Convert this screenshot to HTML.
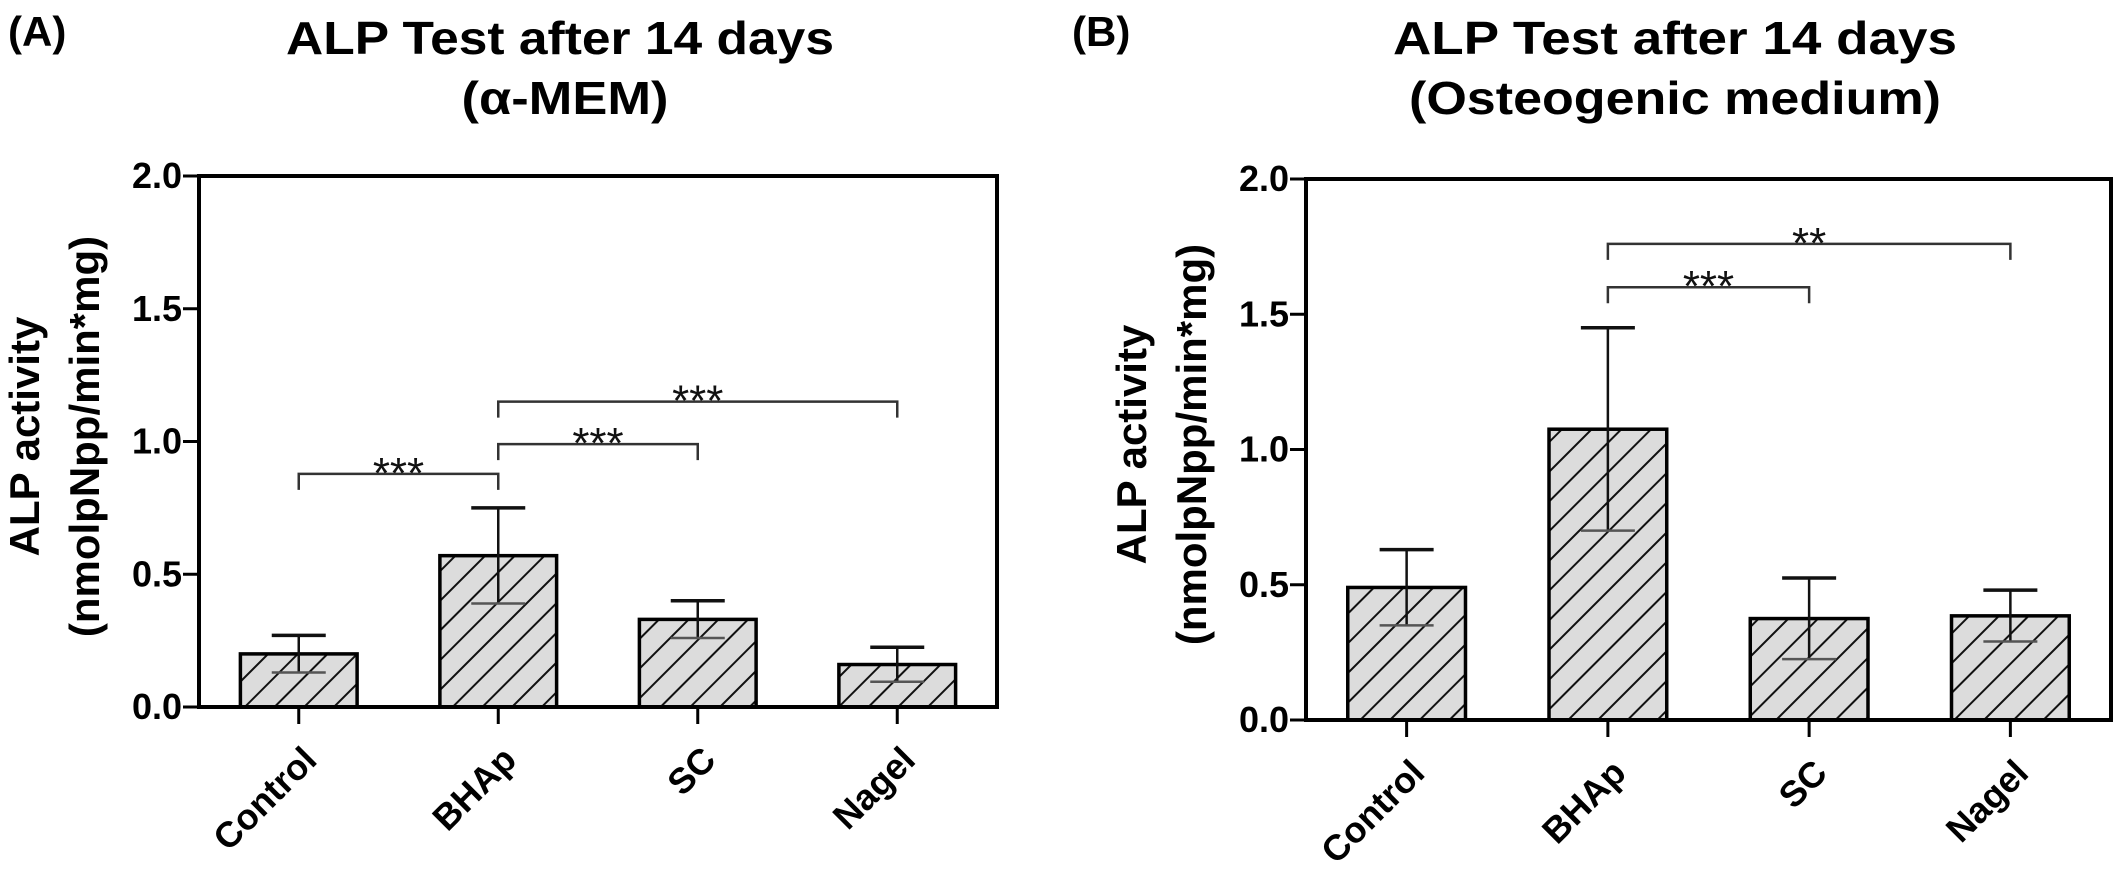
<!DOCTYPE html>
<html><head><meta charset="utf-8">
<style>
html,body{margin:0;padding:0;background:#fff;}
svg{display:block;font-family:"Liberation Sans",Arial,sans-serif;}
</style></head>
<body>
<svg id="fig" width="2128" height="880" viewBox="0 0 2128 880" xmlns="http://www.w3.org/2000/svg">
<defs>
<pattern id="hatch" patternUnits="userSpaceOnUse" width="21" height="21" patternTransform="rotate(45)">
<rect width="21" height="21" fill="#dcdcdc"/>
<line x1="0" y1="0" x2="0" y2="21" stroke="#111" stroke-width="4"/>
</pattern>
</defs>
<text x="8" y="46" font-size="42" font-weight="bold">(A)</text>
<text x="560" y="54" font-size="46" font-weight="bold" text-anchor="middle" textLength="548" lengthAdjust="spacingAndGlyphs">ALP Test after 14 days</text>
<text x="565" y="114" font-size="46" font-weight="bold" text-anchor="middle" textLength="207" lengthAdjust="spacingAndGlyphs">(α-MEM)</text>
<text x="1072" y="46" font-size="42" font-weight="bold">(B)</text>
<text x="1675" y="54" font-size="46" font-weight="bold" text-anchor="middle" textLength="564" lengthAdjust="spacingAndGlyphs">ALP Test after 14 days</text>
<text x="1675" y="114" font-size="46" font-weight="bold" text-anchor="middle" textLength="532" lengthAdjust="spacingAndGlyphs">(Osteogenic medium)</text>
<g id="panelA"></g>
<g id="panelB"></g>
</svg>
<script>
const categories = ["Control", "BHAp", "SC", "Nagel"];
const yTicks = [0, 0.5, 1.0, 1.5, 2.0];
const yTickLabels = ["0.0", "0.5", "1.0", "1.5", "2.0"];
const meansA = [0.20, 0.57, 0.33, 0.16];
const sdA = [0.07, 0.18, 0.07, 0.065];
const meansB = [0.49, 1.075, 0.375, 0.385];
const sdB = [0.14, 0.375, 0.15, 0.095];
const bracketPairsA = [[0, 1], [1, 2], [1, 3]];
const bracketLevelsA = [0.878, 0.99, 1.15];
const bracketStarsA = ["***", "***", "***"];
const bracketPairsB = [[1, 2], [1, 3]];
const bracketLevelsB = [1.60, 1.76];
const bracketStarsB = ["***", "**"];

const NS = "http://www.w3.org/2000/svg";
function mk(parent, tag, attrs, text) {
  const e = document.createElementNS(NS, tag);
  for (const k in attrs) e.setAttribute(k, attrs[k]);
  if (text !== undefined) e.textContent = text;
  parent.appendChild(e);
  return e;
}

function drawPanel(g, box, means, sds, pairs, levels, stars, prefix) {
  const yMax = 2.0;
  const yScale = v => box.bottom - (v / yMax) * (box.bottom - box.top);
  const slot = (box.right - box.left) / categories.length;
  const xScale = i => box.left + slot * (i + 0.5);
  const barW = slot * 0.585;
  const capW = 54;

  // bars
  means.forEach((m, i) => {
    const r = mk(g, "rect", {x: xScale(i) - barW / 2, y: yScale(m), width: barW, height: yScale(0) - yScale(m), fill: "url(#hatch)", stroke: "#000", "stroke-width": 3.5});
    
    
  });
  // error bars
  means.forEach((m, i) => {
    const cx = xScale(i), hi = yScale(m + sds[i]), lo = yScale(m - sds[i]);
    const eg = mk(g, "g", {stroke: "#111", "stroke-width": 2.5});
    
    
    mk(eg, "line", {x1: cx, y1: hi, x2: cx, y2: lo});
    mk(eg, "line", {x1: cx - capW / 2, y1: hi, x2: cx + capW / 2, y2: hi, "stroke-width": 3.5});
    mk(eg, "line", {x1: cx - capW / 2, y1: lo, x2: cx + capW / 2, y2: lo, stroke: "#555"});
  });
  // frame
  const fr = mk(g, "rect", {x: box.left, y: box.top, width: box.right - box.left, height: box.bottom - box.top, fill: "none", stroke: "#000", "stroke-width": 4});
  
  
  // y ticks
  yTicks.forEach((v, k) => {
    const y = yScale(v);
    const t = mk(g, "line", {x1: box.left - 16, y1: y, x2: box.left, y2: y, stroke: "#000", "stroke-width": 3});
    
    
    const lab = mk(g, "text", {x: box.left - 17, y: y + 12, "font-size": 36, "font-weight": "bold", "text-anchor": "end"}, yTickLabels[k]);
    
    
  });
  // x ticks and labels
  categories.forEach((c, i) => {
    const cx = xScale(i);
    const t = mk(g, "line", {x1: cx, y1: box.bottom, x2: cx, y2: box.bottom + 17, stroke: "#000", "stroke-width": 3});
    
    
    const ax = cx + 20, ay = box.bottom + 55;
    const lab = mk(g, "text", {x: ax, y: ay, "font-size": 36, "font-weight": "bold", "text-anchor": "end", transform: "rotate(-45 " + ax + " " + ay + ")"}, c);
    
    
  });
  // significance brackets
  pairs.forEach((p, k) => {
    const y = yScale(levels[k]);
    const x1 = xScale(p[0]), x2 = xScale(p[1]);
    const bg = mk(g, "g", {});
    
    
    mk(bg, "path", {d: "M" + x1 + " " + (y + 16) + " V" + y + " H" + x2 + " V" + (y + 16), fill: "none", stroke: "#333", "stroke-width": 2.5});
    mk(bg, "text", {x: (x1 + x2) / 2, y: y + 14, "font-size": 44, "text-anchor": "middle", fill: "#111"}, stars[k]);
  });
  // y-axis title
  const ycx = (box.top + box.bottom) / 2 - 5;
  const l1x = box.left - 160, l2x = box.left - 100;
  const t1 = mk(g, "text", {x: l1x, y: ycx, "font-size": 42, "font-weight": "bold", "text-anchor": "middle", transform: "rotate(-90 " + l1x + " " + ycx + ")"}, "ALP activity");
  
  
  const t2 = mk(g, "text", {x: l2x, y: ycx, "font-size": 42, "font-weight": "bold", "text-anchor": "middle", transform: "rotate(-90 " + l2x + " " + ycx + ")"}, "(nmolpNpp/min*mg)");
  
  
}

drawPanel(document.getElementById("panelA"), {left: 199, right: 997, top: 176, bottom: 707}, meansA, sdA, bracketPairsA, bracketLevelsA, bracketStarsA, "panel-a");
drawPanel(document.getElementById("panelB"), {left: 1306, right: 2111, top: 179, bottom: 720}, meansB, sdB, bracketPairsB, bracketLevelsB, bracketStarsB, "panel-b");
</script>
</body></html>
